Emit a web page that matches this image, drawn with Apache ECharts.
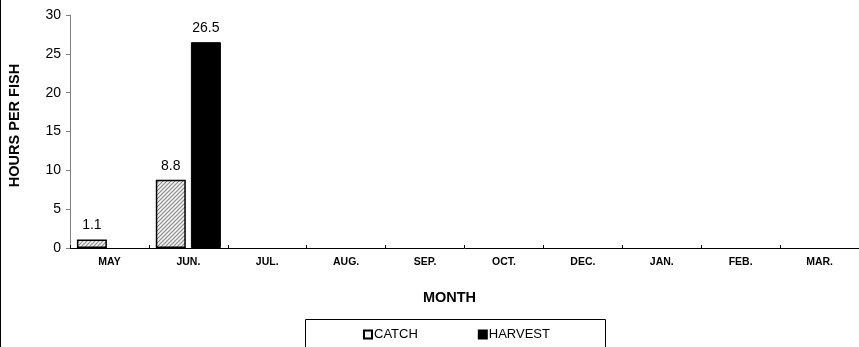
<!DOCTYPE html>
<html><head><meta charset="utf-8">
<script src="https://cdn.jsdelivr.net/npm/echarts@6/dist/echarts.min.js"></script>
<style>html,body{margin:0;padding:0;background:#fff}#c{width:859px;height:347px}</style>
</head><body><div id="c"></div>
<script>
const months = ['MAY','JUN.','JUL.','AUG.','SEP.','OCT.','DEC.','JAN.','FEB.','MAR.'];
const catchVals = [1.1, 8.8, null, null, null, null, null, null, null, null];
const harvestVals = [null, 26.5, null, null, null, null, null, null, null, null];
const yTicks = {min: 0, max: 30, interval: 5};

function hatch() {
  const c = document.createElement('canvas');
  c.width = 4; c.height = 4;
  const g = c.getContext('2d');
  g.fillStyle = '#f4f4f4'; g.fillRect(0,0,4,4);
  g.strokeStyle = '#8c8c8c'; g.lineWidth = 1.2;
  g.beginPath();
  g.moveTo(-1,5); g.lineTo(5,-1);
  g.moveTo(-1,1); g.lineTo(1,-1);
  g.moveTo(3,5); g.lineTo(5,3);
  g.stroke();
  return c;
}
const pat = {image: hatch(), repeat: 'repeat'};
const FONT = 'Arial, Liberation Sans';

const chart = echarts.init(document.getElementById('c'), null, {renderer: 'canvas'});
const lbl = {show: true, position: 'top', distance: 7, color: '#000', fontFamily: FONT, fontSize: 14,
  formatter: p => p.value == null ? '' : p.value.toFixed(1)};
chart.setOption({
  animation: false,
  grid: {left: 70, right: 0, top: 15, bottom: 99, containLabel: false, outerBoundsMode: 'none'},
  legend: {
    data: [{name: 'CATCH', itemStyle: {color: '#f4f4f4', borderColor: '#000', borderWidth: 2}},
           {name: 'HARVEST', itemStyle: {color: '#000'}}],
    left: 358, top: 323, itemWidth: 8, itemHeight: 8, itemGap: 60,
    icon: 'rect',
    textStyle: {fontFamily: FONT, fontSize: 13, color: '#000', padding: [0,0,0,-3]}
  },
  xAxis: {
    type: 'category', data: months,
    axisLine: {lineStyle: {color: '#000', width: 1}},
    axisTick: {show: true, inside: true, length: 3, lineStyle: {color: '#000'}},
    axisLabel: {color: '#000', fontFamily: FONT, fontWeight: 'bold', fontSize: 10.5, margin: 9},
    name: 'MONTH', nameLocation: 'middle', nameGap: 42,
    nameTextStyle: {color: '#000', fontFamily: FONT, fontWeight: 'bold', fontSize: 14.5, padding: [0, 30, 0, 0]}
  },
  yAxis: {
    type: 'value', min: yTicks.min, max: yTicks.max, interval: yTicks.interval,
    axisLine: {show: true, lineStyle: {color: '#808080'}},
    axisTick: {show: true, length: 4, lineStyle: {color: '#808080'}},
    splitLine: {show: false},
    axisLabel: {color: '#000', fontFamily: FONT, fontSize: 14, margin: 9},
    name: 'HOURS PER FISH', nameLocation: 'middle', nameGap: 48, nameRotate: 90,
    nameTextStyle: {color: '#000', fontFamily: FONT, fontWeight: 'bold', fontSize: 14.5, padding: [0, 0, 0, 12]}
  },
  series: [
    {name: 'CATCH', type: 'bar', data: catchVals, barWidth: 30, barGap: '17%',
     itemStyle: {color: pat, borderColor: '#000', borderWidth: 1.5}, label: lbl},
    {name: 'HARVEST', type: 'bar', data: harvestVals, barWidth: 30,
     itemStyle: {color: '#000', borderColor: '#000', borderWidth: 1}, label: lbl}
  ],
  graphic: [
    {type: 'rect', left: 303, top: 317, shape: {width: 300, height: 40}, style: {fill: 'none', stroke: '#000', lineWidth: 1}, silent: true},
    {type: 'rect', left: 0, top: 0, shape: {width: 1, height: 347}, style: {fill: '#000'}, silent: true}
  ]
});
</script></body></html>
